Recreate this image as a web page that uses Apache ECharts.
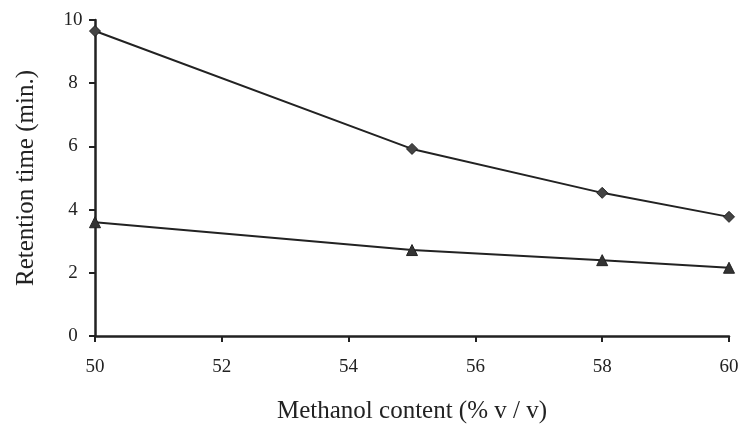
<!DOCTYPE html>
<html>
<head>
<meta charset="utf-8">
<script src="https://cdn.jsdelivr.net/npm/echarts@6/dist/echarts.min.js"></script>
<style>html,body{margin:0;padding:0;background:#fff}#c{width:742px;height:437px}</style>
</head>
<body>
<div id="c"></div>
<script>
const methanol = [50, 55, 58, 60];
const seriesDiamond = [9.65, 5.92, 4.53, 3.77];
const seriesTriangle = [3.6, 2.72, 2.4, 2.16];
const xTicks = [50, 52, 54, 56, 58, 60];
const yTicks = [0, 2, 4, 6, 8, 10];
const xTitle = 'Methanol content (% v / v)';
const yTitle = 'Retention time (min.)';

const chart = echarts.init(document.getElementById('c'));
const font = 'Liberation Serif';
const ink = '#222';
chart.setOption({
  animation: false,
  backgroundColor: '#fff',
  grid: {left: 95, right: 13, top: 20, bottom: 101, containLabel: false},
  xAxis: {
    type: 'value', min: xTicks[0], max: xTicks[xTicks.length - 1], interval: 2,
    name: xTitle, nameLocation: 'middle', nameGap: 63,
    nameTextStyle: {fontFamily: font, fontSize: 25, color: ink},
    axisLine: {show: true, lineStyle: {color: ink, width: 2.5}},
    axisTick: {show: true, length: 6, lineStyle: {color: ink, width: 2}},
    axisLabel: {fontFamily: font, fontSize: 19, color: ink, margin: 22},
    splitLine: {show: false}
  },
  yAxis: {
    type: 'value', min: yTicks[0], max: yTicks[yTicks.length - 1], interval: 2,
    name: yTitle, nameLocation: 'middle', nameGap: 56,
    nameTextStyle: {fontFamily: font, fontSize: 25, color: ink},
    axisLine: {show: true, lineStyle: {color: ink, width: 2.5}},
    axisTick: {show: true, length: 6, lineStyle: {color: ink, width: 2}},
    axisLabel: {fontFamily: font, fontSize: 19, color: ink, margin: 22, align: 'center'},
    splitLine: {show: false}
  },
  series: [
    {
      type: 'line', data: methanol.map((x, i) => [x, seriesDiamond[i]]),
      symbol: 'diamond', symbolSize: 11,
      lineStyle: {color: ink, width: 2},
      itemStyle: {color: '#444', borderColor: ink, borderWidth: 1}
    },
    {
      type: 'line', data: methanol.map((x, i) => [x, seriesTriangle[i]]),
      symbol: 'triangle', symbolSize: 11,
      lineStyle: {color: ink, width: 2},
      itemStyle: {color: '#333', borderColor: ink, borderWidth: 1}
    }
  ]
});
</script>
</body>
</html>
